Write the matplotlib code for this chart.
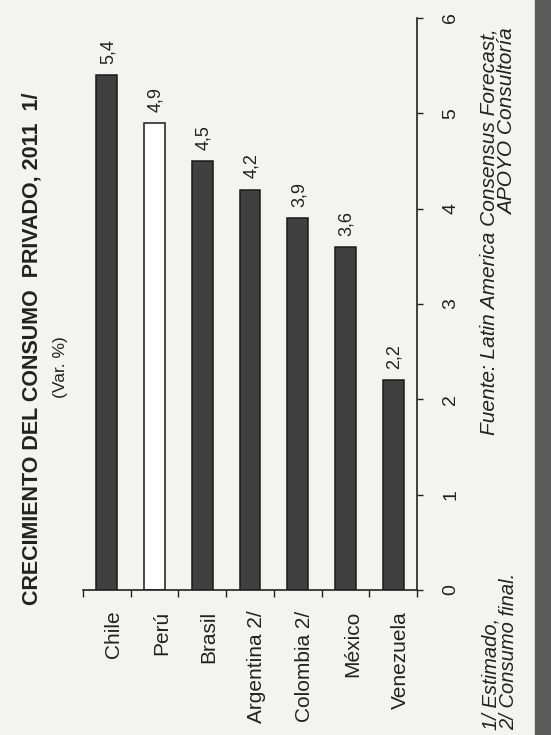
import matplotlib.pyplot as plt
import numpy as np

# DATA ========================================================================
paises = ['Chile', 'Perú', 'Brasil', 'Argentina 2/', 'Colombia 2/', 'México', 'Venezuela']
valores = [5.4, 4.9, 4.5, 4.2, 3.9, 3.6, 2.2]
ticks_valor = [0, 1, 2, 3, 4, 5, 6]
titulo = 'CRECIMIENTO DEL CONSUMO  PRIVADO, 2011  1/'
subtitulo = '(Var. %)'
fuente = 'Fuente: Latin America Consensus Forecast,\nAPOYO Consultoría'
notas = '1/ Estimado,\n2/ Consumo final.'
# DATA ========================================================================

plt.rcParams['font.family'] = ['Liberation Sans', 'DejaVu Sans']

W, H = 551, 735
fig = plt.figure(figsize=(W / 100, H / 100), dpi=100)
fig.patch.set_facecolor('#f3f3f1')

# axes box in pixel terms of the scan (the page is turned sideways)
ax = fig.add_axes([83 / W, 1 - 590 / H, (417 - 83) / W, (590 - 18) / H])
ax.set_facecolor('none')

x = np.arange(len(paises))
colores = ['white' if p == 'Perú' else '#404040' for p in paises]
ax.bar(x, valores, width=0.44, color=colores, edgecolor='#1a1a1a', linewidth=1.1)

ax.set_xlim(-0.4, len(paises) - 0.5)
ax.set_ylim(ticks_valor[0], ticks_valor[-1])

for s in ['left', 'top']:
    ax.spines[s].set_visible(False)
for s in ['right', 'bottom']:
    ax.spines[s].set_linewidth(1.2)
    ax.spines[s].set_color('#222222')

# value axis on the right, labels turned
ax.yaxis.tick_right()
ax.set_yticks(ticks_valor)
ax.tick_params(axis='y', direction='out', length=4, width=1, pad=14,
               labelsize=14, labelrotation=90, colors='#222222')
for lbl in ax.get_yticklabels():
    lbl.set_va('center')

# category axis: ticks between bars, labels drawn by hand
ax.set_xticks(x)
ax.set_xticklabels([])
ax.tick_params(axis='x', which='major', length=0)
ax.set_xticks(np.arange(-0.5, len(paises), 1), minor=True)
ax.tick_params(axis='x', which='minor', direction='out', length=5, width=1, color='#222222')

for i, p in enumerate(paises):
    ax.annotate(p, (i, 0), xytext=(5, -15), textcoords='offset points',
                rotation=90, ha='center', va='top', fontsize=15, color='#222222')

for i, v in enumerate(valores):
    ax.annotate(f'{v:.1f}'.replace('.', ','), (i, v), xytext=(1, 8),
                textcoords='offset points', rotation=90, ha='center', va='bottom',
                fontsize=13, color='#222222')

fig.text(32 / W, 1 - 349 / H, titulo, rotation=90, ha='center', va='center',
         fontsize=15.5, fontweight='bold', color='#222222')
fig.text(60 / W, 1 - 367 / H, subtitulo, rotation=90, ha='center', va='center',
         fontsize=12.5, color='#222222')

fig.text(498 / W, 1 - 28 / H, fuente, rotation=90, ha='center', va='top',
         multialignment='right', style='italic', fontsize=15, linespacing=0.95,
         color='#222222')
fig.text(500 / W, 1 - 730 / H, notas, rotation=90, ha='center', va='bottom',
         multialignment='left', style='italic', fontsize=14.5, linespacing=0.95,
         color='#222222')

# dark scan border on the right edge
fig.add_artist(plt.Rectangle((535 / W, 0), 16 / W, 1, transform=fig.transFigure,
                             color='#5b5b5b'))

fig.savefig('out.png', dpi=100, facecolor=fig.get_facecolor())
